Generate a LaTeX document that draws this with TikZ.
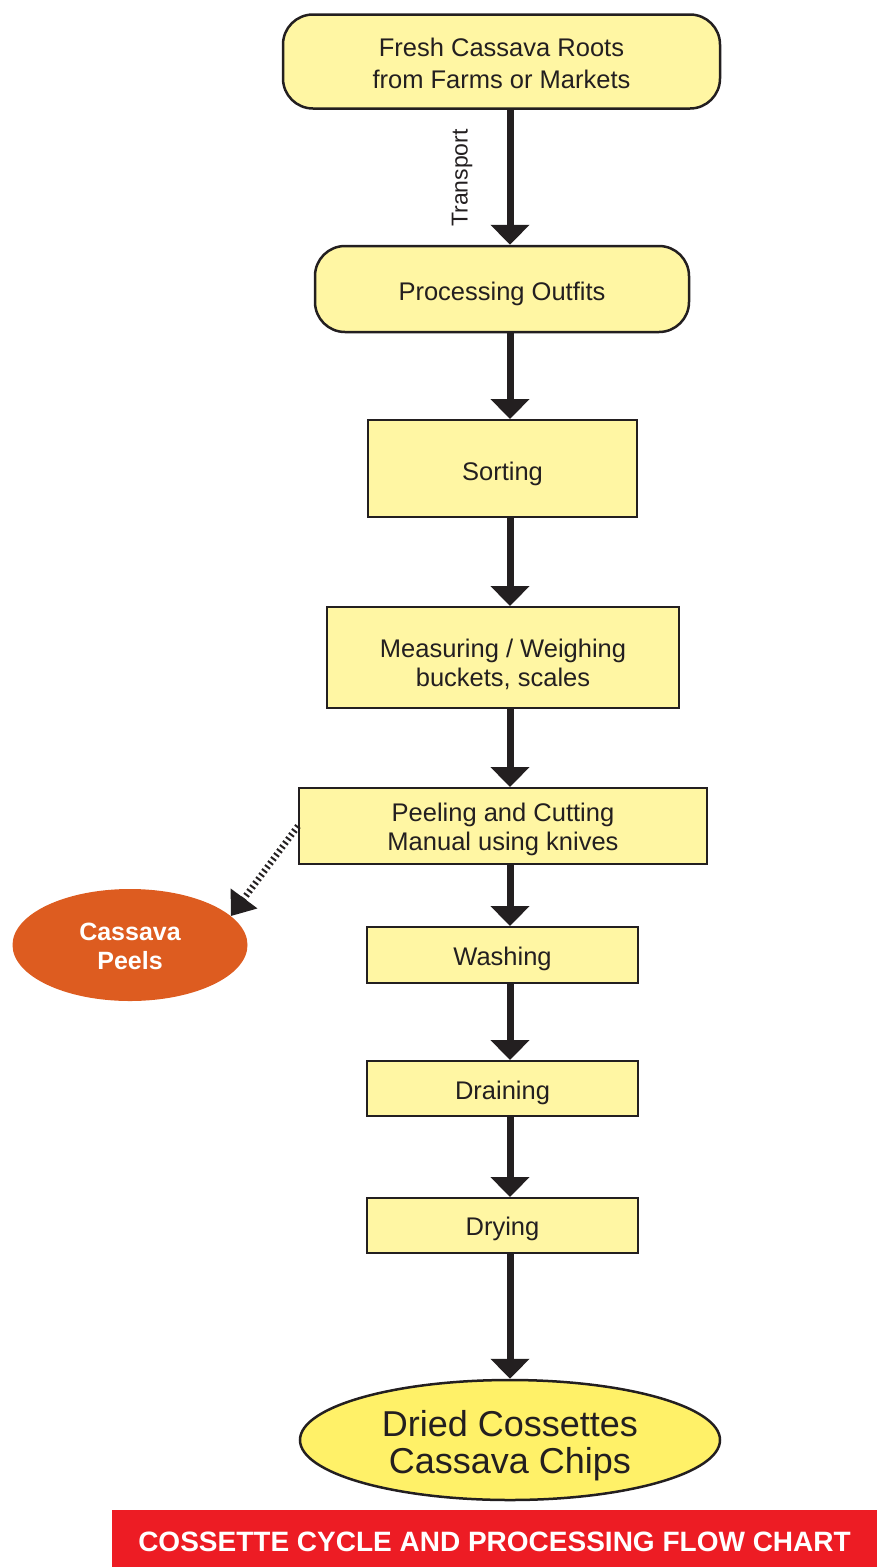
\documentclass[tikz,border=0pt]{standalone}
\usepackage{fontspec}
\setmainfont{Liberation Sans}
\usetikzlibrary{arrows.meta,shapes.geometric}
\definecolor{ink}{RGB}{35,31,32}
\definecolor{boxyel}{RGB}{255,246,163}
\definecolor{ellyel}{RGB}{255,241,104}
\definecolor{peelorange}{RGB}{221,92,32}
\definecolor{bannerred}{RGB}{237,28,36}
\newcommand\lowby[2]{\raisebox{-#1}[\height][\depth]{\begin{tabular}{@{}c@{}}#2\end{tabular}}}
\tikzset{
  stepbox/.style={draw=ink, line width=2pt, fill=boxyel, text=ink, inner sep=0pt, align=center,
     font=\fontsize{25.5}{29}\selectfont},
  roundbox/.style={stepbox, rounded corners=30pt, line width=2.5pt},
  flow/.style={draw=ink, line width=7pt, -{Triangle[length=20pt,width=38pt]}, color=ink},
  waste/.style={draw=ink, line width=6.5pt, dash pattern=on 2pt off 3pt, -{Triangle[length=22pt,width=32pt]}, color=ink},
}
\begin{document}
\begin{tikzpicture}[x=1pt,y=-1pt]
\useasboundingbox (0,0) rectangle (877,1567);
\coordinate (ax) at (510,0);
\node[roundbox, minimum width=437pt, minimum height=94pt, font=\fontsize{25.5}{32}\selectfont] (fresh) at (501.5,61.5) {\lowby{4.5pt}{Fresh Cassava Roots\\from Farms or Markets}};
\node[roundbox, minimum width=374pt, minimum height=86pt] (proc) at (502,289) {\lowby{5.5pt}{Processing Outfits}};
\node[stepbox, minimum width=269pt, minimum height=97pt] (sort) at (502.5,468.5) {\lowby{6.5pt}{Sorting}};
\node[stepbox, minimum width=352pt, minimum height=101pt] (meas) at (503,657.5) {\lowby{9pt}{Measuring / Weighing\\buckets, scales}};
\node[stepbox, minimum width=408pt, minimum height=76pt] (peel) at (503,826) {\lowby{4pt}{Peeling and Cutting\\Manual using knives}};
\node[stepbox, minimum width=271pt, minimum height=56pt] (wash) at (502.5,955) {\lowby{5pt}{Washing}};
\node[stepbox, minimum width=271pt, minimum height=55pt] (drain) at (502.5,1088.5) {\lowby{5pt}{Draining}};
\node[stepbox, minimum width=271pt, minimum height=55pt] (dry) at (502.5,1225.5) {\lowby{4pt}{Drying}};
\node[ellipse, draw=ink, line width=2.5pt, fill=ellyel, text=ink, inner sep=0pt, minimum width=420pt, minimum height=120pt, align=center, font=\fontsize{36}{37}\selectfont] (chips) at (510,1440) {\lowby{7.5pt}{Dried Cossettes\\Cassava Chips}};
\node[ellipse, fill=peelorange, text=white, inner sep=0pt, minimum width=235pt, minimum height=112pt, align=center, font=\bfseries\fontsize{25}{29}\selectfont] (peels) at (130,945) {\lowby{4pt}{Cassava\\Peels}};
\node[fill=bannerred, text=white, inner sep=0pt, minimum width=765pt, minimum height=57pt, font=\bfseries\fontsize{28}{30}\selectfont] (banner) at (494.5,1538.5) {\lowby{7pt}{COSSETTE CYCLE AND PROCESSING FLOW CHART}};
\draw[flow] (fresh.south -| ax) -- (proc.north -| ax);
\node[rotate=90, text=ink, font=\fontsize{23}{24}\selectfont, inner sep=0pt] (transport) at (462,178) {Transport};
\draw[flow] (proc.south -| ax) -- (sort.north -| ax);
\draw[flow] (sort.south -| ax) -- (meas.north -| ax);
\draw[flow] (meas.south -| ax) -- (peel.north -| ax);
\draw[flow] (peel.south -| ax) -- (wash.north -| ax);
\draw[flow] (wash.south -| ax) -- (drain.north -| ax);
\draw[flow] (drain.south -| ax) -- (dry.north -| ax);
\draw[flow] (dry.south -| ax) -- (chips.north);
\draw[waste] (peel.west) -- (peels.16);
\end{tikzpicture}
\end{document}
